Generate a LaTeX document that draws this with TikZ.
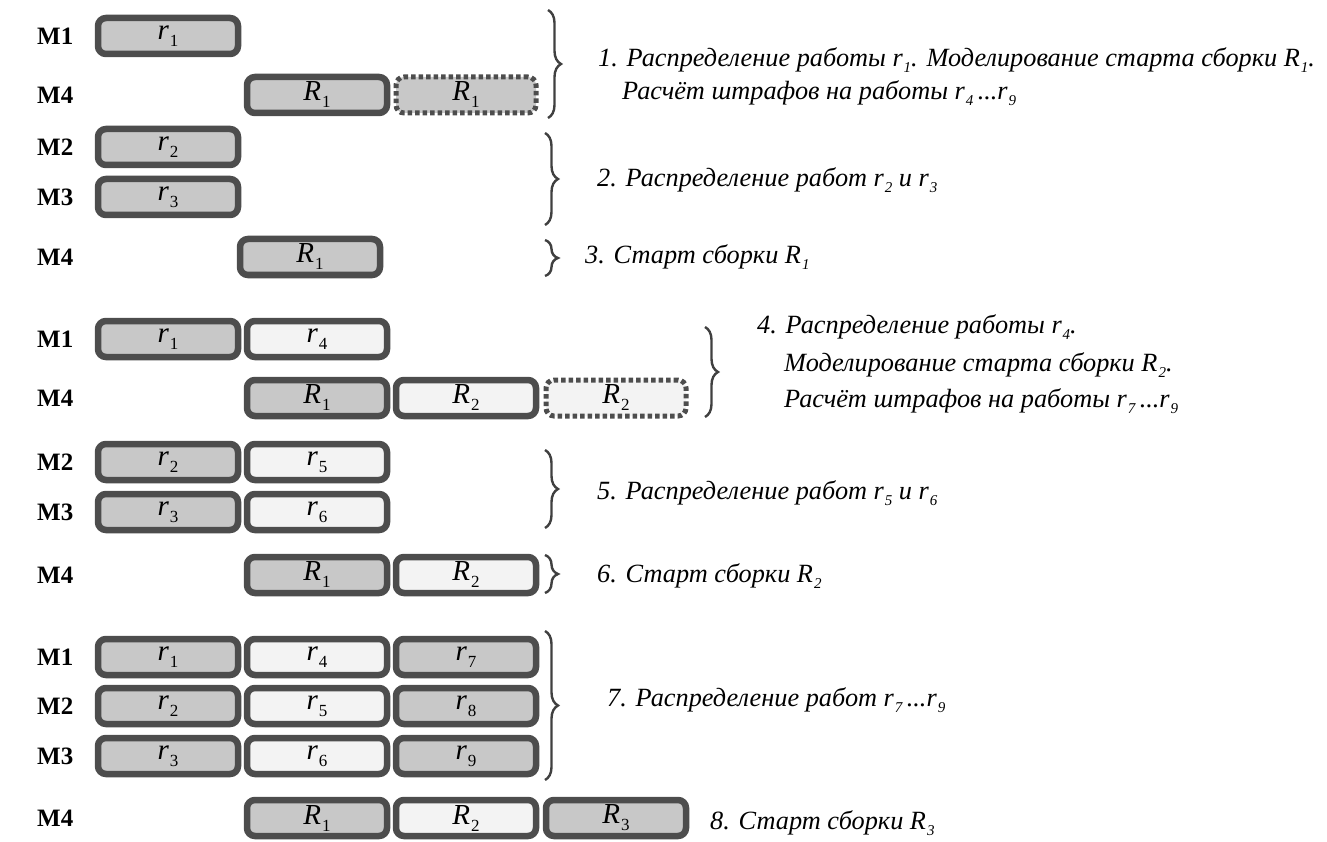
\documentclass[tikz,border=0pt]{standalone}
\usepackage{fontspec}
\setmainfont{Liberation Serif}
\usetikzlibrary{decorations.pathreplacing}
\definecolor{edgegray}{HTML}{4D4D4D}
\definecolor{darkfill}{HTML}{C8C8C8}
\definecolor{lightfill}{HTML}{F3F3F3}
\definecolor{bracegray}{HTML}{404040}
\newcommand\boxsub[2]{\textit{#1}\kern1pt\raisebox{-7pt}{\fontsize{17}{17}\selectfont #2}}
\newcommand\txsub[2]{#1\kern1pt\raisebox{-6pt}{\fontsize{15}{15}\selectfont\itshape #2}}
\tikzset{
  job/.style={draw=edgegray, line width=6.5pt, rounded corners=8pt, minimum width=140pt, minimum height=36pt, inner sep=0pt, font=\fontsize{29}{29}\selectfont},
  gjob/.style={job, fill=darkfill},
  wjob/.style={job, fill=lightfill},
  simjob/.style={job, dash pattern=on 4.5pt off 3pt, line width=5pt},
  mlabel/.style={anchor=west, font=\fontsize{25}{25}\selectfont\bfseries, inner sep=0pt},
  desc/.style={anchor=west, font=\fontsize{26.3}{26.3}\selectfont\itshape, inner sep=0pt},
  brc/.style={draw=bracegray, line width=2.4pt, decorate, decoration={brace, amplitude=13pt}}
}
\begin{document}
\begin{tikzpicture}[x=1pt,y=-1pt]
\useasboundingbox (0,0) rectangle (1327,842);
% ---------- section 1
\node[mlabel] (l1) at (37,36) {M1};
\node[gjob] (a1) at (168,36) {\boxsub{r}{1}};
\node[mlabel] (l2) at (37,95) {M4};
\node[gjob] (a2) at (317,95) {\boxsub{R}{1}};
\node[simjob, fill=darkfill] (a3) at (466,95) {\boxsub{R}{1}};
\node[mlabel] (l3) at (37,147) {M2};
\node[gjob] (a4) at (168,147) {\boxsub{r}{2}};
\node[mlabel] (l4) at (37,197) {M3};
\node[gjob] (a5) at (168,197) {\boxsub{r}{3}};
\node[mlabel] (l5) at (37,257) {M4};
\node[gjob] (a6) at (310,257) {\boxsub{R}{1}};
% ---------- section 2
\node[mlabel] (l6) at (37,339) {M1};
\node[gjob] (b1) at (168,339) {\boxsub{r}{1}};
\node[wjob] (b2) at (317,339) {\boxsub{r}{4}};
\node[mlabel] (l7) at (37,398) {M4};
\node[gjob] (b3) at (317,398) {\boxsub{R}{1}};
\node[wjob] (b4) at (466,398) {\boxsub{R}{2}};
\node[simjob, fill=lightfill] (b5) at (616,398) {\boxsub{R}{2}};
\node[mlabel] (l8) at (37,462) {M2};
\node[gjob] (b6) at (168,462) {\boxsub{r}{2}};
\node[wjob] (b7) at (317,462) {\boxsub{r}{5}};
\node[mlabel] (l9) at (37,512) {M3};
\node[gjob] (b8) at (168,512) {\boxsub{r}{3}};
\node[wjob] (b9) at (317,512) {\boxsub{r}{6}};
\node[mlabel] (l10) at (37,575) {M4};
\node[gjob] (b10) at (317,575) {\boxsub{R}{1}};
\node[wjob] (b11) at (466,575) {\boxsub{R}{2}};
% ---------- section 3
\node[mlabel] (l11) at (37,657) {M1};
\node[gjob] (c1) at (168,657) {\boxsub{r}{1}};
\node[wjob] (c2) at (317,657) {\boxsub{r}{4}};
\node[gjob] (c3) at (466,657) {\boxsub{r}{7}};
\node[mlabel] (l12) at (37,706) {M2};
\node[gjob] (c4) at (168,706) {\boxsub{r}{2}};
\node[wjob] (c5) at (317,706) {\boxsub{r}{5}};
\node[gjob] (c6) at (466,706) {\boxsub{r}{8}};
\node[mlabel] (l13) at (37,756) {M3};
\node[gjob] (c7) at (168,756) {\boxsub{r}{3}};
\node[wjob] (c8) at (317,756) {\boxsub{r}{6}};
\node[gjob] (c9) at (466,756) {\boxsub{r}{9}};
\node[mlabel] (l14) at (37,818) {M4};
\node[gjob] (c10) at (317,818) {\boxsub{R}{1}};
\node[wjob] (c11) at (466,818) {\boxsub{R}{2}};
\node[gjob] (c12) at (616,818) {\boxsub{R}{3}};
% ---------- braces
\coordinate (k1t) at (548,10);  \coordinate (k1b) at (548,118);
\coordinate (k2t) at (545,133); \coordinate (k2b) at (545,225);
\coordinate (k3t) at (545,240); \coordinate (k3b) at (545,276);
\coordinate (k4t) at (705,327); \coordinate (k4b) at (705,417);
\coordinate (k5t) at (545,450); \coordinate (k5b) at (545,528);
\coordinate (k6t) at (545,555); \coordinate (k6b) at (545,593);
\coordinate (k7t) at (545,631); \coordinate (k7b) at (545,780);
\draw[brc] (k1t) -- (k1b);
\draw[brc] (k2t) -- (k2b);
\draw[brc] (k3t) -- (k3b);
\draw[brc] (k4t) -- (k4b);
\draw[brc] (k5t) -- (k5b);
\draw[brc] (k6t) -- (k6b);
\draw[brc] (k7t) -- (k7b);
% ---------- descriptions
\node[desc] (t1a) at (598,60) {1. Распределение работы \txsub{r}{1}. Моделирование старта сборки \txsub{R}{1}.};
\node[desc] (t1b) at (622,93) {Расчёт штрафов на работы \txsub{r}{4}\,...\txsub{r}{9}};
\node[desc] (t2) at (597,180) {2. Распределение работ \txsub{r}{2} и \txsub{r}{3}};
\node[desc] (t3) at (585,257) {3. Старт сборки \txsub{R}{1}};
\node[desc] (t4a) at (757,327) {4. Распределение работы \txsub{r}{4}.};
\node[desc] (t4b) at (784,365) {Моделирование старта сборки \txsub{R}{2}.};
\node[desc] (t4c) at (784,401) {Расчёт штрафов на работы \txsub{r}{7}\,...\txsub{r}{9}};
\node[desc] (t5) at (597,493) {5. Распределение работ \txsub{r}{5} и \txsub{r}{6}};
\node[desc] (t6) at (597,576) {6. Старт сборки \txsub{R}{2}};
\node[desc] (t7) at (607,700) {7. Распределение работ \txsub{r}{7}\,...\txsub{r}{9}};
\node[desc] (t8) at (710,823) {8. Старт сборки \txsub{R}{3}};
\end{tikzpicture}
\end{document}
